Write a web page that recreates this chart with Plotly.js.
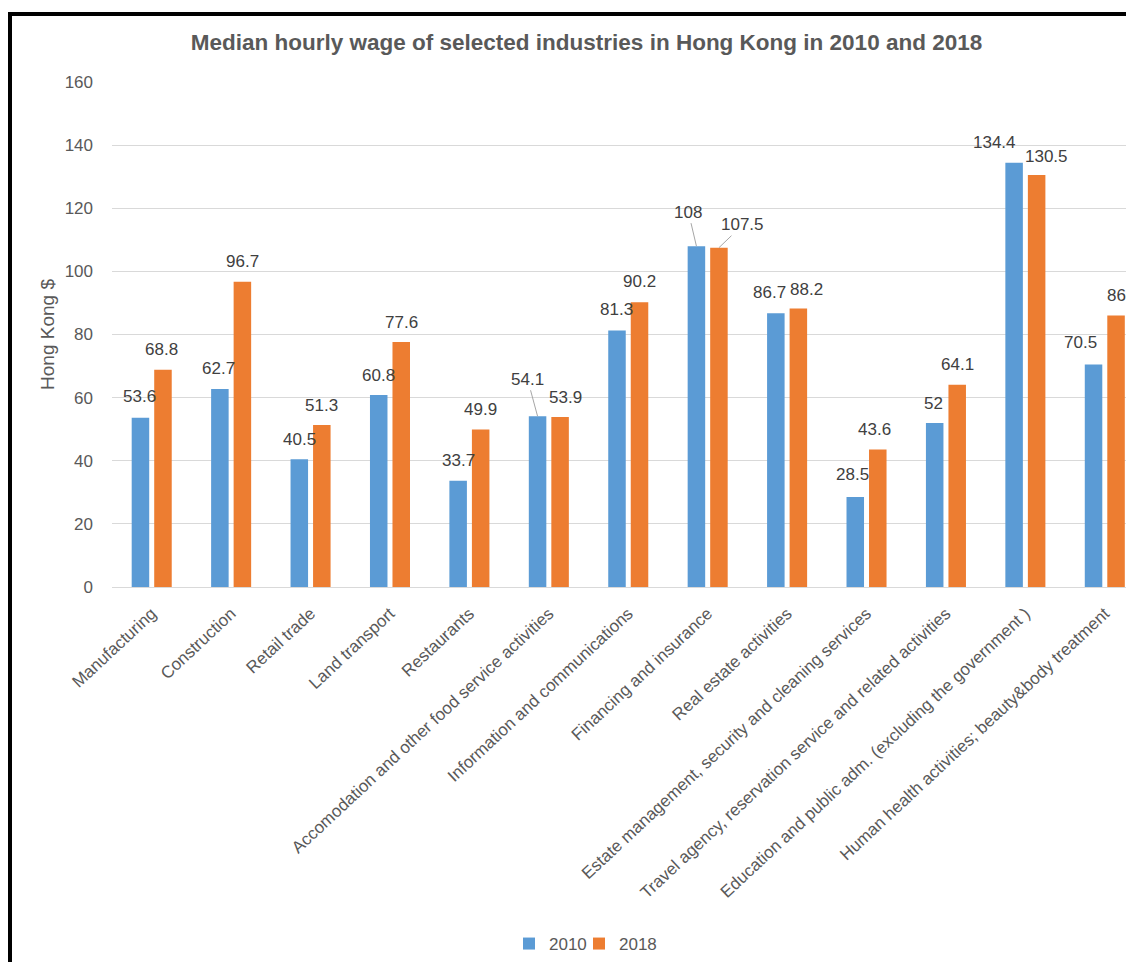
<!DOCTYPE html>
<html><head><meta charset="utf-8">
<script src="https://cdn.plot.ly/plotly-3.0.1.min.js"></script>
<style>
html,body{margin:0;padding:0;background:#fff;overflow:hidden}
#chart{position:absolute;left:0;top:0;width:1126px;height:962px}
.frame{position:absolute;background:#000;pointer-events:none;z-index:10}
</style></head><body>
<div id="chart"></div>
<div class="frame" style="left:8px;top:12px;width:4px;height:950px"></div>
<div class="frame" style="left:8px;top:12px;width:1118px;height:4px"></div>
<script>
// ---- data ----
const industries = [
  "Manufacturing",
  "Construction",
  "Retail trade",
  "Land transport",
  "Restaurants",
  "Accomodation and other food service activities",
  "Information and communications",
  "Financing and insurance",
  "Real estate activities",
  "Estate management, security and cleaning services",
  "Travel agency, reservation service and related activities",
  "Education and public adm. (excluding the government )",
  "Human health activities; beauty&body treatment"
];
const wage2010 = [53.6, 62.7, 40.5, 60.8, 33.7, 54.1, 81.3, 108, 86.7, 28.5, 52, 134.4, 70.5];
const wage2018 = [68.8, 96.7, 51.3, 77.6, 49.9, 53.9, 90.2, 107.5, 88.2, 43.6, 64.1, 130.5, 86];
const seriesNames = ["2010", "2018"];
const yTickVals = [0, 20, 40, 60, 80, 100, 120, 140, 160];

// ---- label placement (pixel offsets, kept apart from the data) ----
const labelOffset2010 = [[-1,21],[-1,21],[0,20],[0,20],[0,20],null,[-1,21],null,[-6,21],[-2.5,23],[-1.5,19],[-19.5,20],[-13.5,22]];
const labelOffset2018 = [[-1,20],[0,20],[0,20],[0,20],[0,20],[5.5,19],[0,21],null,[8,19],[-3,20],[0,20],[10,19],[0,20]];
const leaderLabels = [
  {series: 0, idx: 5, ax: -10, ay: -37},
  {series: 0, idx: 7, ax: -8, ay: -34},
  {series: 1, idx: 7, ax: 24, ay: -23}
];

const FONT = "Liberation Sans, Arial, sans-serif";
const GREY = "#595959";
const LABEL = "#404040";
const colors = ["#5B9BD5", "#ED7D31"];
const series = [wage2010, wage2018];
const offsets = [labelOffset2010, labelOffset2018];
const barShift = [-11.25, 11.25];
const legendIds = ["legend", "legend2"];

const traces = series.map((vals, s) => ({
  type: "bar",
  name: seriesNames[s],
  x: industries,
  y: vals,
  legend: legendIds[s],
  marker: {color: colors[s], line: {width: 0}},
  hoverinfo: "x+y+name"
}));

const annotations = [];
series.forEach((vals, s) => {
  vals.forEach((v, i) => {
    const off = offsets[s][i];
    if (!off) return;
    annotations.push({
      x: industries[i], y: v, xref: "x", yref: "y",
      text: String(v), showarrow: false,
      xanchor: "center", yanchor: "middle",
      xshift: barShift[s] + off[0], yshift: off[1],
      font: {family: FONT, size: 17, color: LABEL}
    });
  });
});
leaderLabels.forEach(l => {
  const v = series[l.series][l.idx];
  annotations.push({
    x: industries[l.idx], y: v, xref: "x", yref: "y",
    text: String(v), showarrow: true, arrowhead: 0, arrowwidth: 1,
    arrowcolor: "#A6A6A6", ax: l.ax, ay: l.ay, axref: "pixel", ayref: "pixel",
    xshift: barShift[l.series],
    font: {family: FONT, size: 17, color: LABEL}
  });
});

const legendBase = {
  orientation: "h", xanchor: "left",
  y: -0.7065, yanchor: "middle",
  font: {family: FONT, size: 17, color: GREY},
  bgcolor: "rgba(0,0,0,0)"
};

const layout = {
  width: 1126, height: 962,
  margin: {l: 112, r: 0, t: 82, b: 374, pad: 0},
  paper_bgcolor: "#fff", plot_bgcolor: "#fff",
  font: {family: FONT, color: GREY},
  title: {
    text: "Median hourly wage of selected industries in Hong Kong in 2010 and 2018",
    font: {family: FONT, size: 22.5, color: GREY, weight: "bold"},
    xref: "container", yref: "container",
    x: 586.5 / 1126, xanchor: "center",
    y: 1 - 42 / 962, yanchor: "middle"
  },
  barmode: "group",
  bargap: 0.433,
  bargroupgap: 0.222,
  showlegend: true,
  legend: Object.assign({}, legendBase, {x: (509 - 112) / 1014}),
  legend2: Object.assign({}, legendBase, {x: (579 - 112) / 1014}),
  xaxis: {
    type: "category",
    range: [-0.5, 12.267],
    tickangle: -43,
    tickfont: {family: FONT, size: 17, color: GREY},
    showgrid: false,
    showline: true, linecolor: "#D9D9D9", linewidth: 1,
    ticks: "", ticklabelstandoff: 9, automargin: false, fixedrange: true
  },
  yaxis: {
    range: [0, 160],
    tickvals: yTickVals,
    ticktext: yTickVals.map(String),
    tickfont: {family: FONT, size: 17, color: GREY},
    showgrid: true, gridcolor: "#D9D9D9", gridwidth: 1,
    zeroline: true, zerolinecolor: "#D9D9D9", zerolinewidth: 1,
    showline: false, ticks: "", ticklabelstandoff: 18,
    automargin: false, fixedrange: true,
    title: {text: "Hong Kong $", font: {family: FONT, size: 19, color: GREY}, standoff: 4}
  },
  annotations: annotations
};

Plotly.newPlot("chart", traces, layout, {displayModeBar: false, responsive: false});
</script>
</body></html>
